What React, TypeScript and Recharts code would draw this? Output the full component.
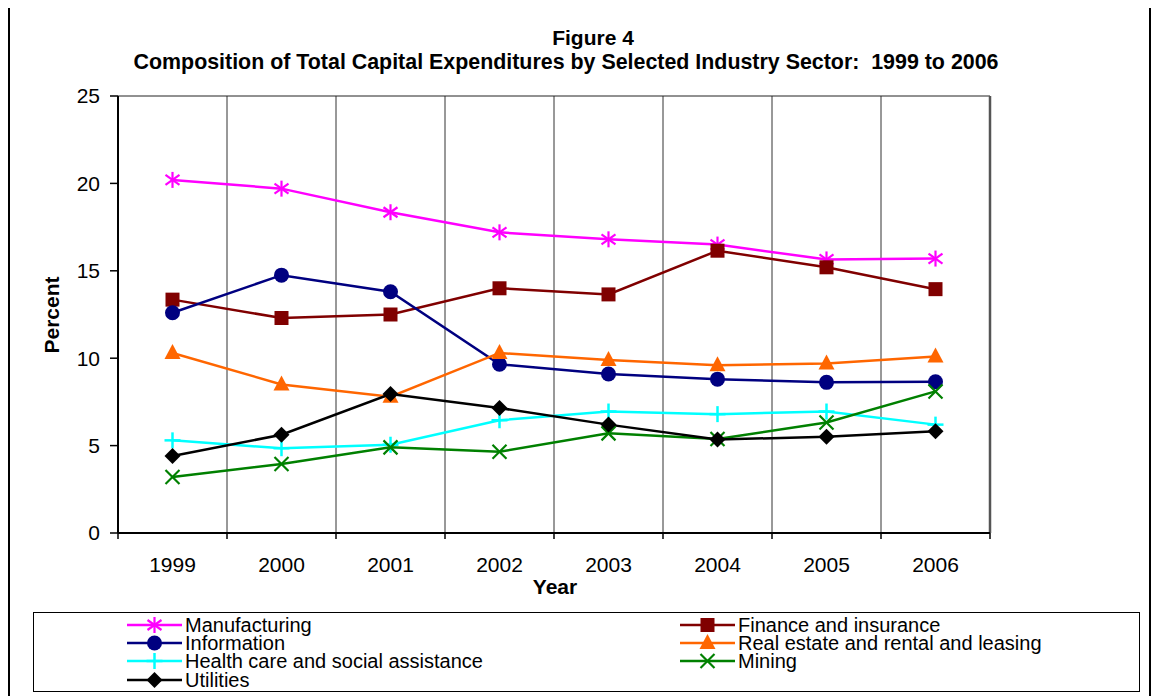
import React from "react";
import { LineChart, Line, XAxis, YAxis, ReferenceLine } from "recharts";

const categories = ["1999", "2000", "2001", "2002", "2003", "2004", "2005", "2006"];

const manufacturing = [20.2, 19.7, 18.35, 17.2, 16.8, 16.5, 15.65, 15.7];
const finance = [13.35, 12.3, 12.5, 14.0, 13.65, 16.15, 15.2, 13.95];
const information = [12.6, 14.75, 13.8, 9.65, 9.1, 8.8, 8.62, 8.65];
const realEstate = [10.3, 8.5, 7.8, 10.3, 9.9, 9.6, 9.7, 10.1];
const healthCare = [5.3, 4.85, 5.05, 6.45, 6.95, 6.8, 6.95, 6.2];
const mining = [3.2, 3.95, 4.9, 4.65, 5.7, 5.38, 6.32, 8.1];
const utilities = [4.4, 5.62, 7.95, 7.15, 6.2, 5.35, 5.5, 5.82];

const yTicks = [0, 5, 10, 15, 20, 25];

type Shape = "star" | "square" | "circle" | "triangle" | "plus" | "x" | "diamond";

const series: { key: string; name: string; color: string; shape: Shape; values: number[] }[] = [
  { key: "manufacturing", name: "Manufacturing", color: "#FF00FF", shape: "star", values: manufacturing },
  { key: "finance", name: "Finance and insurance", color: "#800000", shape: "square", values: finance },
  { key: "information", name: "Information", color: "#000080", shape: "circle", values: information },
  { key: "realEstate", name: "Real estate and rental and leasing", color: "#FF6600", shape: "triangle", values: realEstate },
  { key: "healthCare", name: "Health care and social assistance", color: "#00FFFF", shape: "plus", values: healthCare },
  { key: "mining", name: "Mining", color: "#008000", shape: "x", values: mining },
  { key: "utilities", name: "Utilities", color: "#000000", shape: "diamond", values: utilities },
];

const chartData = categories.map((year, i) => {
  const row: Record<string, number | string> = { x: i, year };
  series.forEach((s) => {
    row[s.key] = s.values[i];
  });
  return row;
});

// label ticks at the centres, tick marks at the boundaries
const xTicks: number[] = [];
for (let i = 0; i <= categories.length * 2; i++) xTicks.push(i / 2 - 0.5);
const boundaries = categories.slice(1).map((_, i) => i + 0.5);

const FONT = "Arial, 'Liberation Sans', sans-serif";

function Marker({ shape, color, cx, cy }: { shape: Shape; color: string; cx: number; cy: number }) {
  switch (shape) {
    case "star":
      return (
        <g stroke={color} strokeWidth={2.2}>
          <line x1={cx} y1={cy - 8} x2={cx} y2={cy + 8} />
          <line x1={cx - 7} y1={cy - 5} x2={cx + 7} y2={cy + 5} />
          <line x1={cx - 7} y1={cy + 5} x2={cx + 7} y2={cy - 5} />
        </g>
      );
    case "square":
      return <rect x={cx - 7} y={cy - 7} width={14} height={14} fill={color} />;
    case "circle":
      return <circle cx={cx} cy={cy} r={7.5} fill={color} />;
    case "triangle":
      return <polygon points={`${cx},${cy - 9} ${cx - 8},${cy + 6} ${cx + 8},${cy + 6}`} fill={color} />;
    case "plus":
      return (
        <g stroke={color} strokeWidth={2.5}>
          <line x1={cx} y1={cy - 8} x2={cx} y2={cy + 8} />
          <line x1={cx - 8} y1={cy} x2={cx + 8} y2={cy} />
        </g>
      );
    case "x":
      return (
        <g stroke={color} strokeWidth={2.2}>
          <line x1={cx - 7} y1={cy - 7} x2={cx + 7} y2={cy + 7} />
          <line x1={cx - 7} y1={cy + 7} x2={cx + 7} y2={cy - 7} />
        </g>
      );
    default:
      return <polygon points={`${cx},${cy - 8} ${cx + 8},${cy} ${cx},${cy + 8} ${cx - 8},${cy}`} fill={color} />;
  }
}

function XTick(props: any) {
  const { x, y, payload } = props;
  const v = payload.value as number;
  if (Number.isInteger(v)) {
    return (
      <text x={x} y={y + 33} textAnchor="middle" fontSize={21} fontFamily={FONT} fill="#000">
        {categories[v]}
      </text>
    );
  }
  return <line x1={x} y1={y - 6} x2={x} y2={y} stroke="#000" strokeWidth={1.5} />;
}

// legend is laid out row by row in two columns
const legendCols = [93, 646];
const legendRows = [12, 30, 48, 67];

export default function App() {
  return (
    <div
      style={{
        position: "relative",
        width: 1143,
        height: 700,
        border: "2px solid #000",
        boxSizing: "border-box",
        marginTop: -4,
        fontFamily: FONT,
        background: "#fff",
      }}
    >
      <div style={{ position: "absolute", left: 383, width: 400, top: 21, textAlign: "center", fontSize: 21, fontWeight: "bold", lineHeight: "22px" }}>
        Figure 4
      </div>
      <div style={{ position: "absolute", left: 56, width: 1000, top: 45, textAlign: "center", fontSize: 21.4, fontWeight: "bold", lineHeight: "22px" }}>
        Composition of Total Capital Expenditures by Selected Industry Sector:&nbsp; 1999 to 2006
      </div>
      <div
        style={{
          position: "absolute",
          left: 42,
          top: 309,
          transform: "translate(-50%, -50%) rotate(-90deg)",
          fontSize: 21,
          fontWeight: "bold",
          whiteSpace: "nowrap",
        }}
      >
        Percent
      </div>
      <div style={{ position: "absolute", left: 445, width: 200, top: 569, textAlign: "center", fontSize: 21, fontWeight: "bold", lineHeight: "24px" }}>
        Year
      </div>

      <div style={{ position: "absolute", left: 0, top: 0 }}>
        <LineChart width={1130} height={600} data={chartData} margin={{ top: 90, right: 150, bottom: 33, left: 48 }}>
          <XAxis
            dataKey="x"
            type="number"
            domain={[-0.5, 7.5]}
            ticks={xTicks}
            interval={0}
            tickSize={6}
            tickMargin={0}
            tickLine={false}
            tick={XTick}
            height={40}
            axisLine={{ stroke: "#000", strokeWidth: 2 }}
          />
          <YAxis
            domain={[0, 25]}
            ticks={yTicks}
            width={60}
            tickSize={8}
            tickMargin={10}
            tick={{ fontSize: 21, fontFamily: FONT, fill: "#000" }}
            tickLine={{ stroke: "#000", strokeWidth: 1.5 }}
            axisLine={{ stroke: "#000", strokeWidth: 2 }}
          />
          {boundaries.map((b) => (
            <ReferenceLine key={b} x={b} stroke="#333" strokeWidth={1} />
          ))}
          <ReferenceLine y={25} stroke="#222" strokeWidth={1} />
          <ReferenceLine x={7.5} stroke="#555" strokeWidth={2.5} />
          {series.map((s) => (
            <Line
              key={s.key}
              dataKey={s.key}
              name={s.name}
              type="linear"
              stroke={s.color}
              strokeWidth={2.5}
              isAnimationActive={false}
              activeDot={false}
              dot={(p: any) => (
                <g key={`${s.key}-${p.index}`}>
                  <Marker shape={s.shape} color={s.color} cx={p.cx} cy={p.cy} />
                </g>
              )}
            />
          ))}
        </LineChart>
      </div>

      <div
        style={{
          position: "absolute",
          left: 23,
          top: 606,
          width: 1107,
          height: 80,
          border: "1px solid #000",
          boxSizing: "border-box",
        }}
      >
        {series.map((s, i) => (
          <div
            key={s.key}
            style={{
              position: "absolute",
              left: legendCols[i % 2],
              top: legendRows[Math.floor(i / 2)] - 9,
              height: 18,
              lineHeight: "18px",
              display: "flex",
              alignItems: "center",
              fontSize: 20,
              whiteSpace: "nowrap",
            }}
          >
            <svg width={55} height={18} style={{ marginRight: 3 }}>
              <line x1={0} y1={9} x2={55} y2={9} stroke={s.color} strokeWidth={2.5} />
              <Marker shape={s.shape} color={s.color} cx={27.5} cy={9} />
            </svg>
            <span style={{ lineHeight: "18px" }}>{s.name}</span>
          </div>
        ))}
      </div>
    </div>
  );
}
